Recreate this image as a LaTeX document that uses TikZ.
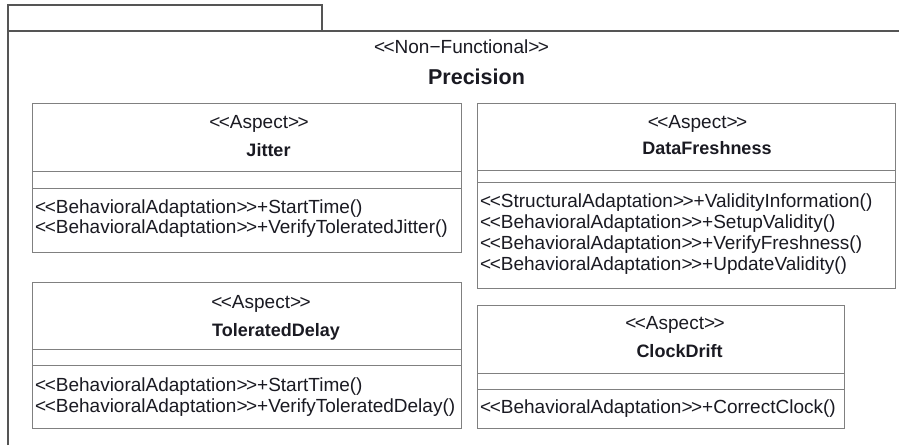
\documentclass[tikz,border=0pt]{standalone}
\usepackage{fontspec}
\setmainfont{Liberation Sans}
\definecolor{frameC}{HTML}{555555}
\definecolor{boxC}{HTML}{808080}
\definecolor{txt}{HTML}{1A1A22}
\newcommand{\stl}{<\kern-1.5pt<}
\newcommand{\str}{>\kern-1.5pt>}
\begin{document}
\begin{tikzpicture}[x=1pt,y=-1pt,
  frameline/.style={draw=frameC, line width=1.6pt},
  boxline/.style={draw=boxC, line width=1pt},
  st/.style={font=\fontsize{19}{22}\selectfont, text=txt, inner sep=0pt, anchor=base},
  nm/.style={font=\bfseries\fontsize{18}{21}\selectfont, text=txt, inner sep=0pt, anchor=base},
  op/.style={font=\fontsize{19}{22}\selectfont, text=txt, inner sep=0pt, anchor=base west}]
\useasboundingbox (0,0) rectangle (899,445);
\fill[white] (0,0) rectangle (899,445);
% package frame
\draw[frameline] (8,31) -- (8,5) -- (322,5) -- (322,31);
\draw[frameline] (8,445) -- (8,31) -- (899,31);
\node[st] (pst) at (461.5,53.5) {\stl Non−Functional\str};
\node[st, font=\bfseries\fontsize{21.5}{26}\selectfont] (pname) at (476.5,84.5) {Precision};
% Jitter
\draw[boxline] (32,103) rectangle (461,252);
\draw[boxline] (32,171) -- (461,171) (32,188) -- (461,188);
\node[st] (jst) at (259,128.5) {\stl Aspect\str};
\node[nm] (jnm) at (268.5,156) {Jitter};
\node[op] (j1) at (35,213.5) {\stl BehavioralAdaptation\str+StartTime()};
\node[op] (j2) at (35,233.5) {\stl BehavioralAdaptation\str+VerifyToleratedJitter()};
% DataFreshness
\draw[boxline] (477,103) rectangle (895,288);
\draw[boxline] (477,170) -- (895,170) (477,182) -- (895,182);
\node[st] (dst) at (697.5,128.5) {\stl Aspect\str};
\node[nm] (dnm) at (707,154) {DataFreshness};
\node[op] (d1) at (480,207.5) {\stl StructuralAdaptation\str+ValidityInformation()};
\node[op] (d2) at (480,228) {\stl BehavioralAdaptation\str+SetupValidity()};
\node[op] (d3) at (480,249.5) {\stl BehavioralAdaptation\str+VerifyFreshness()};
\node[op] (d4) at (480,270.5) {\stl BehavioralAdaptation\str+UpdateValidity()};
% ToleratedDelay
\draw[boxline] (32,282) rectangle (461,428);
\draw[boxline] (32,349) -- (461,349) (32,365) -- (461,365);
\node[st] (tst) at (261,308.5) {\stl Aspect\str};
\node[nm] (tnm) at (276,336) {ToleratedDelay};
\node[op] (t1) at (35,391.5) {\stl BehavioralAdaptation\str+StartTime()};
\node[op] (t2) at (35,412.5) {\stl BehavioralAdaptation\str+VerifyToleratedDelay()};
% ClockDrift
\draw[boxline] (477,305) rectangle (844,428);
\draw[boxline] (477,373) -- (844,373) (477,389) -- (844,389);
\node[st] (cst) at (675,329.5) {\stl Aspect\str};
\node[nm] (cnm) at (679.5,357) {ClockDrift};
\node[op] (c1) at (480,413.5) {\stl BehavioralAdaptation\str+CorrectClock()};
\end{tikzpicture}
\end{document}
